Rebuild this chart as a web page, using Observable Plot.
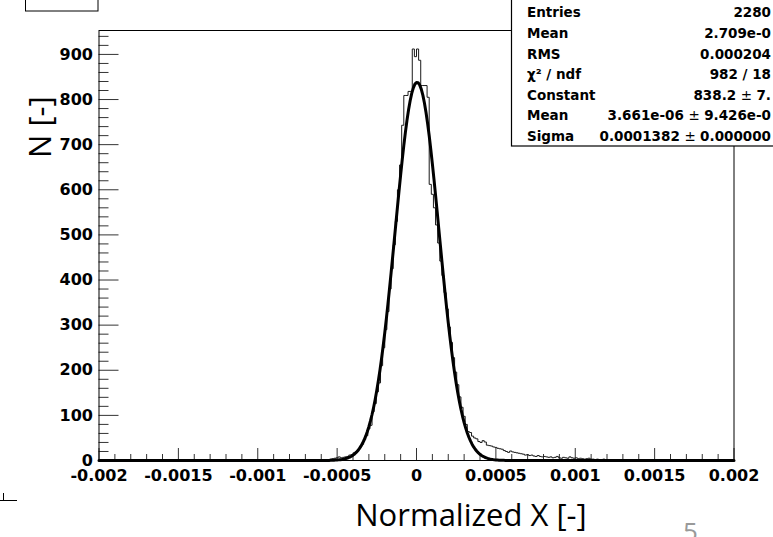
<!DOCTYPE html>
<html><head><meta charset="utf-8">
<script src="https://cdn.jsdelivr.net/npm/d3@7"></script>
<script src="https://cdn.jsdelivr.net/npm/@observablehq/plot@0.6"></script>
<style>html,body{margin:0;padding:0;background:#fff;} #chart{position:relative;width:773px;height:537px;overflow:hidden;}</style>
</head><body><div id="chart"></div>
<script>
// ---- data ----
const xRange = [-0.002, 0.002];
const nBins = 300;
const firstFilledBin = 100; // counts below start at this bin index (k = -50 from the centre)
const binCounts = [
  0,0,1,0,1,1,1,2,2,3,
  4,5,6,8,6,7,8,9,12,13,
  17,20,24,30,36,46,55,70,78,108,
  126,152,172,210,250,290,330,380,425,478,
  530,600,655,743,809,809,818,818,912,895,
  912,887,831,831,831,805,612,590,560,522,
  482,442,410,372,336,296,262,228,196,168,
  141,118,98,80,64,62,54,50,48,42,
  40,44,41,34,33,32,30,29,27,26,
  25,22,20,18,21,19,18,17,16,15,
  14,12,13,11,12,10,9,11,9,8,
  9,8,7,8,6,7,9,6,5,7,
  6,5,8,6,5,6,4,5,4,3,
  4,5,3,3,2,3,2,2,3,1,
  2,1,2,1,1,0,1,1,0,1,0
];
// Gaussian fit parameters shown in the stats box
const fitConstant = 838.2, fitMean = 3.661e-06, fitSigma = 0.0001382;

const xMajorTicks = [-0.002,-0.0015,-0.001,-0.0005,0,0.0005,0.001,0.0015,0.002];
const xTickLabels = ["-0.002","-0.0015","-0.001","-0.0005","0","0.0005","0.001","0.0015","0.002"];
const xMinorTicks = [-0.0019,-0.0018,-0.0017,-0.0016,-0.0014,-0.0013,-0.0012,-0.0011,-0.0009,-0.0008,-0.0007,-0.0006,-0.0004,-0.0003,-0.0002,-0.0001,0.0001,0.0002,0.0003,0.0004,0.0006,0.0007,0.0008,0.0009,0.0011,0.0012,0.0013,0.0014,0.0016,0.0017,0.0018,0.0019];
const yMajorTicks = [0,100,200,300,400,500,600,700,800,900];
const yTickLabels = ["0","100","200","300","400","500","600","700","800","900"];
const yMinorTicks = [20,40,60,80,120,140,160,180,220,240,260,280,320,340,360,380,420,440,460,480,520,540,560,580,620,640,660,680,720,740,760,780,820,840,860,880,920,940];
const yMax = 953;

const statsLabels = ["Entries","Mean","RMS","χ² / ndf","Constant","Mean","Sigma"];
const statsValues = [["2280"],["2.709e-0"],["0.000204"],["982 / 18"],["838.2 ","± ","7."],["3.661e-06 ","± ","9.426e-0"],["0.0001382 ","± ","0.000000"]];

const xTitle = "Normalized X [-]";
const yTitle = "N [-]";
const pageNumber = "5";

// ---- build tables ----
const binWidth = (xRange[1]-xRange[0])/nBins;
const hist = [];
for (let i = 0; i < nBins; i++) {
  const j = i - firstFilledBin;
  hist.push({x: xRange[0] + i*binWidth, n: (j >= 0 && j < binCounts.length) ? binCounts[j] : 0});
}
hist.push({x: xRange[1], n: hist[hist.length-1].n});

// fit function evaluated from the stats-box parameters
const fitCurve = d3.range(0, 401).map(i => {
  const x = xRange[0] + i*(xRange[1]-xRange[0])/400;
  return {x, n: fitConstant*Math.exp(-0.5*((x-fitMean)/fitSigma)**2)};
});

const W = 773, H = 537, mL = 98.5, mR = 39.5, mT = 30, mB = 77;
const plotW = W - mL - mR, plotH = H - mT - mB;
const tickColor = "#333";

const plot = Plot.plot({
  width: W, height: H,
  marginLeft: mL, marginRight: mR, marginTop: mT, marginBottom: mB,
  style: {fontFamily: "DejaVu Sans", fontSize: "16px", fontWeight: "bold", background: "white", color: "black", overflow: "visible"},
  x: {domain: xRange},
  y: {domain: [0, yMax]},
  marks: [
    Plot.ruleX(xMinorTicks, {x: d => d, insetTop: plotH - 6, stroke: tickColor}),
    Plot.ruleX(xMajorTicks, {x: d => d, insetTop: plotH - 12, stroke: tickColor}),
    Plot.ruleY(yMinorTicks, {y: d => d, insetRight: plotW - 10, stroke: tickColor}),
    Plot.ruleY(yMajorTicks, {y: d => d, insetRight: plotW - 20, stroke: tickColor}),
    Plot.line(hist, {x: "x", y: "n", curve: "step-after", stroke: "#1a1a1a", strokeWidth: 1}),
    Plot.line(fitCurve, {x: "x", y: "n", stroke: "black", strokeWidth: 3}),
    Plot.frame({stroke: "black"}),
    Plot.axisX({ticks: xMajorTicks, tickSize: 0, tickPadding: 9, label: null,
      tickFormat: d => xTickLabels[xMajorTicks.indexOf(d)]}),
    Plot.axisY({ticks: yMajorTicks, tickSize: 0, tickPadding: 6, label: null,
      tickFormat: d => yTickLabels[yMajorTicks.indexOf(d)]})
  ]
});
document.getElementById("chart").appendChild(plot);
const svg = d3.select(plot);

// small box top-left
svg.append("rect").attr("x", 25.5).attr("y", -1).attr("width", 72.5).attr("height", 12)
  .attr("fill", "white").attr("stroke", "black").attr("stroke-width", 1);

// bottom-left mark
svg.append("path").attr("d", "M3.5,493V500.5M0,500.5H17").attr("fill", "none").attr("stroke", "black");

// stats box
const box = svg.append("g");
box.append("rect").attr("x", 511.5).attr("y", -2).attr("width", 270).attr("height", 148)
  .attr("fill", "white").attr("stroke", "black").attr("stroke-width", 1.2);
statsLabels.forEach((lab, i) => {
  const y = 12.5 + i*20.6;
  box.append("text").attr("x", 527).attr("y", y).attr("dy", "0.36em").attr("text-anchor", "start")
    .attr("font-family", "DejaVu Sans").attr("font-weight", "bold").attr("font-size", 13.5)
    .attr("fill", "black").text(lab);
  const t = box.append("text").attr("x", 771).attr("y", y).attr("dy", "0.36em").attr("text-anchor", "end")
    .attr("font-family", "DejaVu Sans").attr("font-weight", "bold").attr("font-size", 13.5).attr("fill", "black");
  statsValues[i].forEach(part => {
    const ts = t.append("tspan").text(part);
    if (part.trim() === "±") ts.attr("font-weight", "normal");
  });
});

// axis titles
svg.append("text").attr("transform", "translate(51,158) rotate(-90)").attr("text-anchor", "start")
  .attr("font-family", "Open Sans").attr("font-size", 31).attr("font-weight", "normal").attr("fill", "black")
  .text(yTitle);
svg.append("text").attr("x", 471).attr("y", 526).attr("text-anchor", "middle")
  .attr("font-family", "Open Sans").attr("font-size", 31).attr("font-weight", "normal").attr("fill", "black")
  .text(xTitle);
svg.append("text").attr("x", 683).attr("y", 541).attr("text-anchor", "start")
  .attr("font-family", "Open Sans").attr("font-size", 26).attr("font-weight", "normal").attr("fill", "#999")
  .text(pageNumber);
</script>
</body></html>
